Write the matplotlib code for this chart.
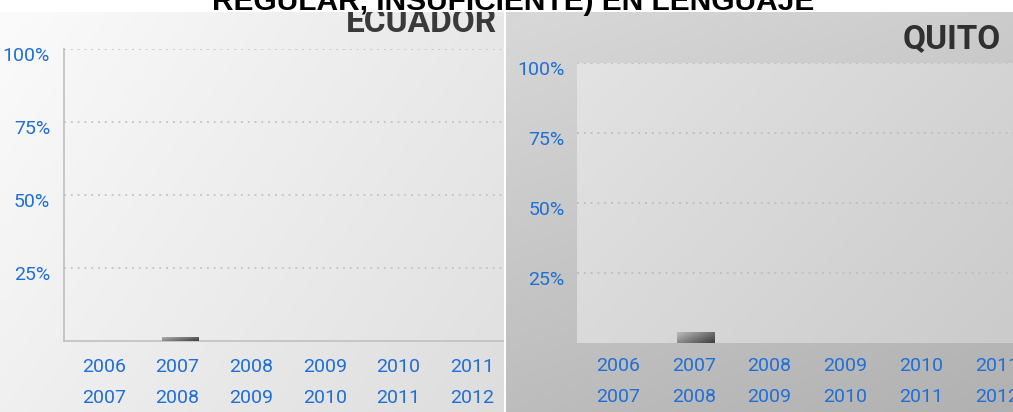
import numpy as np
import matplotlib.pyplot as plt
from matplotlib.transforms import ScaledTranslation

# datos
periodos = ['2006\n2007', '2007\n2008', '2008\n2009', '2009\n2010', '2010\n2011', '2011\n2012']
ecuador = [0, 1.4, 0, 0, 0, 0]
quito = [0, 3.9, 0, 0, 0, 0]
yticks = [25, 50, 75, 100]
ylabels = ['25%', '50%', '75%', '100%']
titulo = 'REGULAR, INSUFICIENTE) EN LENGUAJE'

W, H = 1013, 412
azul = '#1f6fd6'
fuente = ['Roboto', 'DejaVu Sans']

fig = plt.figure(figsize=(W / 100, H / 100), dpi=100)
fig.patch.set_facecolor('white')


def px(x0, y0, x1, y1):
    # rectangulo en pixeles (desde arriba) -> coordenadas de figura
    return [x0 / W, 1 - y1 / H, (x1 - x0) / W, (y1 - y0) / H]


def c(h):
    h = h.lstrip('#')
    return [int(h[i:i + 2], 16) / 255 for i in (0, 2, 4)]


def gradiente(ax, c_izq, c_der, c_arr, c_aba, extent=(0, 1, 0, 1), transform=None, **kw):
    gx = np.linspace(0, 1, 64)[None, :]
    gy = np.linspace(0, 1, 64)[:, None]
    img = np.ones((64, 64, 3))
    for k in range(3):
        img[:, :, k] = c_izq[k] + (c_der[k] - c_izq[k]) * gx + (c_aba[k] - c_arr[k]) * gy + c_arr[k] - c_izq[k]
    img = np.clip(img, 0, 1)
    return ax.imshow(img, extent=extent, aspect='auto', origin='upper', interpolation='bilinear',
                     transform=transform if transform is not None else ax.transAxes, **kw)


# titulo (queda cortado arriba, como en la imagen original)
fig.text(513 / W, 1 - 10 / H, titulo, ha='center', va='baseline', fontsize=21.5,
         fontweight='bold', color='black', family=['Liberation Sans', 'DejaVu Sans'], zorder=0)

# fondos de los paneles
bg_l = fig.add_axes(px(0, 12, 503, 412))
gradiente(bg_l, c('#fbfbfb'), c('#e8e8e8'), c('#fbfbfb'), c('#f0f0f0'))
bg_l.set_xlim(0, 1); bg_l.set_ylim(0, 1); bg_l.axis('off')
bg_l.text(0.988, 0.95, 'ECUADOR', transform=bg_l.transAxes, ha='right', va='baseline',
          fontsize=24, fontweight='bold', color='#3a3a3a', family=fuente, clip_on=True)

bg_r = fig.add_axes(px(506, 12, 1013, 412))
gradiente(bg_r, c('#d8d8d8'), c('#cccccc'), c('#d8d8d8'), c('#bdbdbd'))
bg_r.set_xlim(0, 1); bg_r.set_ylim(0, 1); bg_r.axis('off')
bg_r.text(0.976, 0.91, 'QUITO', transform=bg_r.transAxes, ha='right', va='baseline',
          fontsize=24, fontweight='bold', color='#303030', family=fuente, clip_on=True)


def panel(rect, valores, xlim, fondo, grid_color, eje_color, pad_x, pad_y):
    ax = fig.add_axes(rect)
    ax.set_facecolor('none')
    gradiente(ax, *fondo, zorder=0)
    x = np.arange(len(periodos))
    barras = ax.bar(x + 0.03, valores, width=0.49, color='#909090', zorder=2)
    for b in barras:
        if b.get_height() <= 0:
            continue
        x0, y0 = b.get_x(), b.get_y()
        im = gradiente(ax, c('#bcbcbc'), c('#6e6e6e'), c('#bcbcbc'), c('#8a8a8a'),
                       extent=(x0, x0 + b.get_width(), y0, y0 + b.get_height()),
                       transform=ax.transData, zorder=3)
        im.set_clip_path(b)
    ax.set_xlim(*xlim)
    ax.set_ylim(0, 100)
    ax.set_yticks(yticks)
    ax.set_yticklabels(ylabels)
    ax.set_xticks(x)
    ax.set_xticklabels(periodos, linespacing=1.95)
    ax.tick_params(length=0, labelcolor=azul, labelsize=14)
    ax.tick_params(axis='y', pad=pad_y)
    ax.tick_params(axis='x', pad=pad_x)
    for lab in ax.get_yticklabels() + ax.get_xticklabels():
        lab.set_family(fuente)
    off = ScaledTranslation(0, -5 / 100, fig.dpi_scale_trans)
    for lab in ax.get_yticklabels():
        lab.set_transform(lab.get_transform() + off)
    ax.yaxis.grid(True, linestyle=(0, (1, 2.5)), color=grid_color, linewidth=1.4, zorder=1)
    ax.set_axisbelow(True)
    for s in ['top', 'right']:
        ax.spines[s].set_visible(False)
    for s in ['left', 'bottom']:
        ax.spines[s].set_color(eje_color)
        ax.spines[s].set_linewidth(1.2)
    return ax


panel(px(64, 49, 503, 341), ecuador, (-0.54, 5.42),
      (c('#f7f7f7'), c('#e8e8e8'), c('#f7f7f7'), c('#f0f0f0')), '#c8c8c8', '#c0c0c0', 12, 10)
ax_r = panel(px(577, 63, 1013, 343), quito, (-0.54, 5.21),
             (c('#e3e3e3'), c('#d4d4d4'), c('#e3e3e3'), c('#dadada')), '#c0c0c0', '#e0e0e0', 10, 9)
ax_r.spines['left'].set_visible(False)
ax_r.spines['bottom'].set_visible(False)

fig.savefig('out.png', dpi=100)
